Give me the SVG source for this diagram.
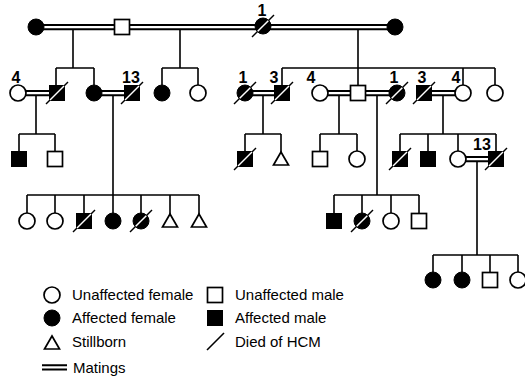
<svg xmlns="http://www.w3.org/2000/svg" xmlns:xlink="http://www.w3.org/1999/xlink" width="525" height="380" viewBox="0 0 525 380">
<style>
.ln{stroke:#000;stroke-width:1.6;fill:none}
.m{stroke:#000;stroke-width:1.9;fill:none}
.o{fill:#fff;stroke:#000;stroke-width:1.7}
.f{fill:#000;stroke:#000;stroke-width:1}
.lab{font-family:"Liberation Sans",Arial,sans-serif;font-size:16px;font-weight:bold;text-anchor:middle}
.leg{font-family:"Liberation Sans",Arial,sans-serif;font-size:15px}
</style>
<defs>
<circle id="c" r="8"/>
<rect id="s" x="-7.5" y="-7.5" width="15" height="15"/>
<path id="t" d="M0,-7 L-7.5,6 L7.5,6 Z"/>
<g id="dc"><line x1="-11" y1="11" x2="11" y2="-11" stroke="#000" stroke-width="1.5"/><line x1="-5.3" y1="5.3" x2="5.3" y2="-5.3" stroke="#fff" stroke-width="1.5"/></g>
<g id="ds"><line x1="-11" y1="11" x2="11" y2="-11" stroke="#000" stroke-width="1.5"/><line x1="-7" y1="7" x2="7" y2="-7" stroke="#fff" stroke-width="1.5"/></g>
</defs>
<rect width="525" height="380" fill="#fff"/>
<g id="connectors">
<path class="m" d="M36,25H395M36,29.3H395"/>
<path class="m" d="M18,91H56M18,95.3H56"/>
<path class="m" d="M94,91H132M94,95.3H132"/>
<path class="m" d="M245,91H282M245,95.3H282"/>
<path class="m" d="M320,91H397M320,95.3H397"/>
<path class="m" d="M424,91H463M424,95.3H463"/>
<path class="m" d="M458,157H496M458,161.3H496"/>
<path class="ln" d="M73,29V68M56,68H94M56,68V85.5M94,68V85"/>
<path class="ln" d="M180,29V68M162,68H198M162,68V85M198,68V85"/>
<path class="ln" d="M358,29V85.5M282,68H495M282,68V85.5M463,68V85M495,68V85"/>
<path class="ln" d="M36,95V134M19,134H55M19,134V151.5M55,134V151.5"/>
<path class="ln" d="M113,95V195M27,195H199M27,195V213M55,195V213M84,195V213.5M113,195V213M141,195V213M170,195V214M199,195V214"/>
<path class="ln" d="M263,95V134M245,134H281M245,134V151.5M281,134V152"/>
<path class="ln" d="M339,95V134M320,134H357M320,134V151.5M357,134V151"/>
<path class="ln" d="M377,95V195M334,195H419M334,195V213.5M362,195V213M391,195V213M419,195V213.5"/>
<path class="ln" d="M443,95V134M400,134H496M400,134V151.5M428,134V151.5M458,134V151M496,134V151.5"/>
<path class="ln" d="M477,161V255M433,255H518M433,255V272M462,255V272M490,255V272.5M518,255V272"/>
</g>
<g id="I1"><use href="#c" class="f" x="36" y="27"/></g>
<g id="I2"><use href="#s" class="o" x="122" y="27"/></g>
<g id="I3"><use href="#c" class="f" x="263" y="26"/><use href="#dc" x="263" y="26"/><text class="lab" x="262" y="16">1</text></g>
<g id="I4"><use href="#c" class="f" x="395" y="27"/></g>
<g id="II1"><use href="#c" class="o" x="18" y="93"/><text class="lab" x="16" y="83">4</text></g>
<g id="II2"><use href="#s" class="f" x="57" y="93"/><use href="#ds" x="57" y="93"/></g>
<g id="II3"><use href="#c" class="f" x="94" y="93"/></g>
<g id="II4"><use href="#s" class="f" x="132" y="93"/><use href="#ds" x="132" y="93"/><text class="lab" x="131" y="83">13</text></g>
<g id="II5"><use href="#c" class="f" x="162" y="93"/></g>
<g id="II6"><use href="#c" class="o" x="198" y="93"/></g>
<g id="II7"><use href="#c" class="f" x="245" y="93"/><use href="#dc" x="245" y="93"/><text class="lab" x="243" y="83">1</text></g>
<g id="II8"><use href="#s" class="f" x="282" y="93"/><use href="#ds" x="282" y="93"/><text class="lab" x="274" y="83">3</text></g>
<g id="II9"><use href="#c" class="o" x="320" y="93"/><text class="lab" x="311" y="83">4</text></g>
<g id="II10"><use href="#s" class="o" x="358" y="93"/></g>
<g id="II11"><use href="#c" class="f" x="397" y="93"/><use href="#dc" x="397" y="93"/><text class="lab" x="394" y="83">1</text></g>
<g id="II12"><use href="#s" class="f" x="424" y="93"/><use href="#ds" x="424" y="93"/><text class="lab" x="422" y="83">3</text></g>
<g id="II13"><use href="#c" class="o" x="463" y="93"/><text class="lab" x="456" y="83">4</text></g>
<g id="II14"><use href="#c" class="o" x="495" y="93"/></g>
<g id="III1"><use href="#s" class="f" x="19" y="159"/></g>
<g id="III2"><use href="#s" class="o" x="55" y="159"/></g>
<g id="III3"><use href="#s" class="f" x="245" y="159"/><use href="#ds" x="245" y="159"/></g>
<g id="III4"><use href="#t" class="o" x="281" y="159"/></g>
<g id="III5"><use href="#s" class="o" x="320" y="159"/></g>
<g id="III6"><use href="#c" class="o" x="357" y="159"/></g>
<g id="III7"><use href="#s" class="f" x="400" y="159"/><use href="#ds" x="400" y="159"/></g>
<g id="III8"><use href="#s" class="f" x="428" y="159"/></g>
<g id="III9"><use href="#c" class="o" x="458" y="159"/></g>
<g id="III10"><use href="#s" class="f" x="496" y="159"/><use href="#ds" x="496" y="159"/><text class="lab" x="482" y="150">13</text></g>
<g id="III11"><use href="#c" class="o" x="27" y="221"/></g>
<g id="III12"><use href="#c" class="o" x="55" y="221"/></g>
<g id="III13"><use href="#s" class="f" x="84" y="221"/><use href="#ds" x="84" y="221"/></g>
<g id="III14"><use href="#c" class="f" x="113" y="221"/></g>
<g id="III15"><use href="#c" class="f" x="141" y="221"/><use href="#dc" x="141" y="221"/></g>
<g id="III16"><use href="#t" class="o" x="170" y="221"/></g>
<g id="III17"><use href="#t" class="o" x="199" y="221"/></g>
<g id="III18"><use href="#s" class="f" x="334" y="221"/></g>
<g id="III19"><use href="#c" class="f" x="362" y="221"/><use href="#dc" x="362" y="221"/></g>
<g id="III20"><use href="#c" class="o" x="391" y="221"/></g>
<g id="III21"><use href="#s" class="o" x="419" y="221"/></g>
<g id="IV1"><use href="#c" class="f" x="433" y="280"/></g>
<g id="IV2"><use href="#c" class="f" x="462" y="280"/></g>
<g id="IV3"><use href="#s" class="o" x="490" y="280"/></g>
<g id="IV4"><use href="#c" class="o" x="518" y="280"/></g>
<g id="legend">
<use href="#c" class="o" x="52" y="295"/><text class="leg" x="72" y="300">Unaffected female</text>
<use href="#c" class="f" x="52" y="318"/><text class="leg" x="72" y="323">Affected female</text>
<use href="#t" class="o" x="52" y="343"/><text class="leg" x="72" y="347">Stillborn</text>
<path class="m" d="M42,365.3H67M42,369.5H67"/><text class="leg" x="73" y="373">Matings</text>
<use href="#s" class="o" x="215" y="295"/><text class="leg" x="235" y="300">Unaffected male</text>
<use href="#s" class="f" x="215" y="318"/><text class="leg" x="235" y="323">Affected male</text>
<line class="ln" x1="207" y1="350" x2="224" y2="333"/><text class="leg" x="235" y="347">Died of HCM</text>
</g>
</svg>
